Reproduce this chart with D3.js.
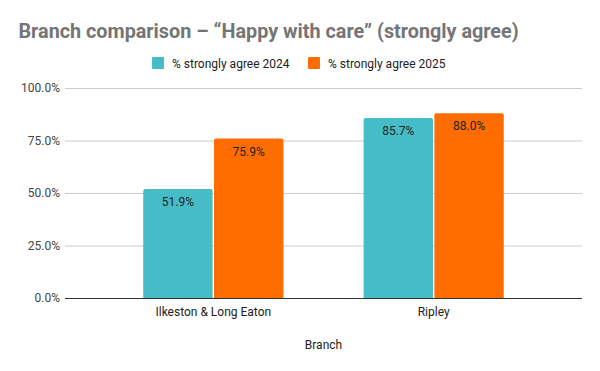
<!DOCTYPE html>
<html>
<head>
<meta charset="utf-8">
<script src="https://cdn.jsdelivr.net/npm/d3@7"></script>
<style>
  body { margin: 0; background: #fff; }
  text { font-family: Roboto, "Noto Sans", sans-serif; }
</style>
</head>
<body>
<script>
var branches = ["Ilkeston & Long Eaton", "Ripley"],
    seriesNames = ["% strongly agree 2024", "% strongly agree 2025"],
    values2024 = [51.9, 85.7],
    values2025 = [75.9, 88.0],
    yTicks = [0, 25, 50, 75, 100];

var colors = ["#46bdc6", "#ff6d01"];

var width = 600, height = 371,
    plot = {left: 65, right: 582, top: 88, bottom: 298};

var svg = d3.select("body").append("svg")
    .attr("width", width)
    .attr("height", height);

var x = d3.scaleBand()
    .domain(branches)
    .range([plot.left, plot.right])
    .paddingInner(0.364)
    .paddingOuter(0.355);

var xSub = d3.scaleBand()
    .domain([0, 1])
    .range([0, x.bandwidth()])
    .paddingInner(0.02);

var y = d3.scaleLinear()
    .domain([0, 100])
    .range([plot.bottom, plot.top]);

// title
svg.append("text")
    .attr("x", 18.5).attr("y", 38)
    .attr("font-size", 19.8).attr("font-weight", "bold")
    .attr("fill", "#757575")
    .text("Branch comparison \u2013 \u201cHappy with care\u201d (strongly agree)");

// legend
var legendX = [152, 308];
seriesNames.forEach(function(name, i) {
  var g = svg.append("g").attr("transform", "translate(" + legendX[i] + ",57)");
  g.append("rect").attr("width", 12).attr("height", 12).attr("rx", 1).attr("fill", colors[i]);
  g.append("text").attr("x", 20).attr("y", 10.5).attr("font-size", 12).attr("fill", "#222").text(name);
});

// gridlines + y labels
svg.append("g").selectAll("line")
  .data(yTicks.slice(1))
  .join("line")
    .attr("x1", plot.left).attr("x2", plot.right)
    .attr("y1", function(d) { return y(d) + 0.5; })
    .attr("y2", function(d) { return y(d) + 0.5; })
    .attr("stroke", "#cccccc");

svg.append("g").selectAll("text")
  .data(yTicks)
  .join("text")
    .attr("x", 60).attr("y", function(d) { return y(d) + 4; })
    .attr("text-anchor", "end").attr("font-size", 12).attr("fill", "#444")
    .text(function(d) { return d3.format(".1f")(d) + "%"; });

// bars
function barPath(x0, w, top, bottom, r) {
  return "M" + x0 + "," + bottom +
    "V" + (top + r) + "Q" + x0 + "," + top + " " + (x0 + r) + "," + top +
    "H" + (x0 + w - r) + "Q" + (x0 + w) + "," + top + " " + (x0 + w) + "," + (top + r) +
    "V" + bottom + "Z";
}

var rows = [];
branches.forEach(function(b, i) {
  rows.push({branch: b, s: 0, v: values2024[i]});
  rows.push({branch: b, s: 1, v: values2025[i]});
});

svg.append("g").selectAll("path")
  .data(rows)
  .join("path")
    .attr("fill", function(d) { return colors[d.s]; })
    .attr("d", function(d) {
      return barPath(x(d.branch) + xSub(d.s), xSub.bandwidth(), y(d.v), y(0), 2);
    });

svg.append("g").selectAll("text")
  .data(rows)
  .join("text")
    .attr("x", function(d) { return x(d.branch) + xSub(d.s) + xSub.bandwidth() / 2; })
    .attr("y", function(d) { return y(d.v) + 17; })
    .attr("text-anchor", "middle").attr("font-size", 12).attr("fill", "#222")
    .text(function(d) { return d3.format(".1f")(d.v) + "%"; });

// baseline
svg.append("line")
    .attr("x1", plot.left).attr("x2", plot.right)
    .attr("y1", y(0) + 0.5).attr("y2", y(0) + 0.5)
    .attr("stroke", "#333").attr("stroke-width", 1);

// x labels
svg.append("g").selectAll("text")
  .data(branches)
  .join("text")
    .attr("x", function(d) { return x(d) + x.bandwidth() / 2; })
    .attr("y", 316)
    .attr("text-anchor", "middle").attr("font-size", 12).attr("fill", "#222")
    .text(function(d) { return d; });

svg.append("text")
    .attr("x", (plot.left + plot.right) / 2).attr("y", 349)
    .attr("text-anchor", "middle").attr("font-size", 12).attr("fill", "#222")
    .text("Branch");
</script>
</body>
</html>
